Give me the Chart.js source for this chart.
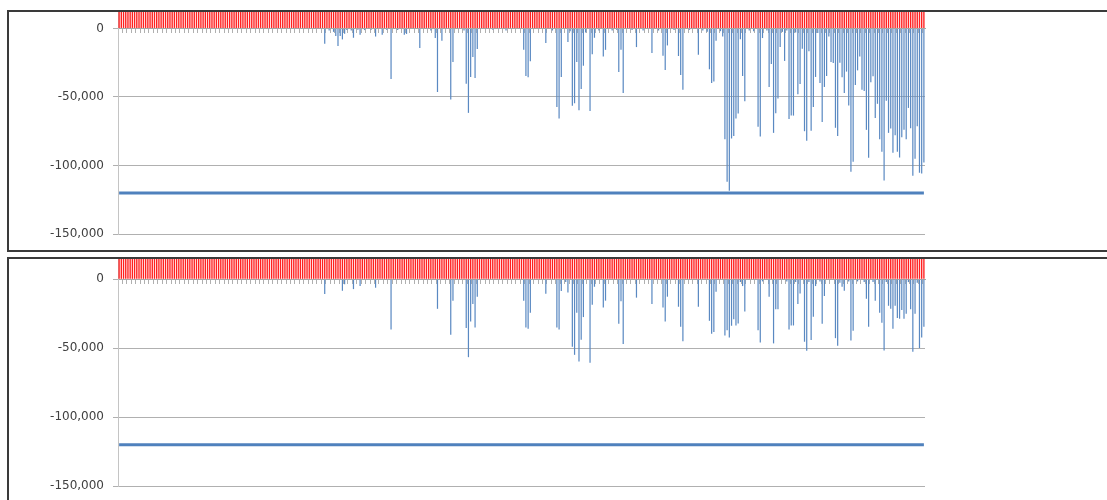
<!DOCTYPE html>
<html>
<head>
<meta charset="utf-8">
<script src="https://cdn.jsdelivr.net/npm/chart.js@4.4.1/dist/chart.umd.min.js"></script>
<style>
  html, body { margin: 0; padding: 0; background: #fff; width: 1107px; height: 500px; overflow: hidden; }
  .panel { position: absolute; left: 7px; width: 1200px; box-sizing: border-box; border: 2px solid #3a3a3a; border-right: none; background: #fff; }
  #p1 { top: 10px; height: 242px; }
  #p2 { top: 257px; height: 300px; }
  canvas { position: absolute; left: 0; }
  #c1 { top: 0; }
  #c2 { top: 252px; }
</style>
</head>
<body>
<div class="panel" id="p1"></div>
<div class="panel" id="p2"></div>
<canvas id="c1" width="1107" height="252"></canvas>
<canvas id="c2" width="1107" height="248"></canvas>
<script>
// ---- data ----
const dayCount = 365;
const dayLabels = Array.from({ length: dayCount }, (_, i) => String(i + 1));

const yTickValues = [0, -50000, -100000, -150000];
const limitLevel = -120000;

// positive daily series (red) – runs above the visible window
const positiveDaily = [
  20000,20000,20000,20000,20000,20000,20000,20000,20000,20000,
  20000,20000,20000,20000,20000,20000,20000,20000,20000,20000,
  20000,20000,20000,20000,20000,20000,20000,20000,20000,20000,
  20000,20000,20000,20000,20000,20000,20000,20000,20000,20000,
  20000,20000,20000,20000,20000,20000,20000,20000,20000,20000,
  20000,20000,20000,20000,20000,20000,20000,20000,20000,20000,
  20000,20000,20000,20000,20000,20000,20000,20000,20000,20000,
  20000,20000,20000,20000,20000,20000,20000,20000,20000,20000,
  20000,20000,20000,20000,20000,20000,20000,20000,20000,20000,
  20000,20000,20000,20000,20000,20000,20000,20000,20000,20000,
  20000,20000,20000,20000,20000,20000,20000,20000,20000,20000,
  20000,20000,20000,20000,20000,20000,20000,20000,20000,20000,
  20000,20000,20000,20000,20000,20000,20000,20000,20000,20000,
  20000,20000,20000,20000,20000,20000,20000,20000,20000,20000,
  20000,20000,20000,20000,20000,20000,20000,20000,20000,20000,
  20000,20000,20000,20000,20000,20000,20000,20000,20000,20000,
  20000,20000,20000,20000,20000,20000,20000,20000,20000,20000,
  20000,20000,20000,20000,20000,20000,20000,20000,20000,20000,
  20000,20000,20000,20000,20000,20000,20000,20000,20000,20000,
  20000,20000,20000,20000,20000,20000,20000,20000,20000,20000,
  20000,20000,20000,20000,20000,20000,20000,20000,20000,20000,
  20000,20000,20000,20000,20000,20000,20000,20000,20000,20000,
  20000,20000,20000,20000,20000,20000,20000,20000,20000,20000,
  20000,20000,20000,20000,20000,20000,20000,20000,20000,20000,
  20000,20000,20000,20000,20000,20000,20000,20000,20000,20000,
  20000,20000,20000,20000,20000,20000,20000,20000,20000,20000,
  20000,20000,20000,20000,20000,20000,20000,20000,20000,20000,
  20000,20000,20000,20000,20000,20000,20000,20000,20000,20000,
  20000,20000,20000,20000,20000,20000,20000,20000,20000,20000,
  20000,20000,20000,20000,20000,20000,20000,20000,20000,20000,
  20000,20000,20000,20000,20000,20000,20000,20000,20000,20000,
  20000,20000,20000,20000,20000,20000,20000,20000,20000,20000,
  20000,20000,20000,20000,20000,20000,20000,20000,20000,20000,
  20000,20000,20000,20000,20000,20000,20000,20000,20000,20000,
  20000,20000,20000,20000,20000,20000,20000,20000,20000,20000,
  20000,20000,20000,20000,20000,20000,20000,20000,20000,20000,
  20000,20000,20000,20000,20000
];

// negative daily series, upper panel
const negativeDailyTop = [
  0,0,0,0,0,0,0,0,0,0,
  0,0,0,0,0,0,0,0,0,0,
  0,0,0,0,0,0,0,0,0,0,
  0,0,0,0,0,0,0,0,0,0,
  0,0,0,0,0,0,0,0,0,0,
  0,0,0,0,0,0,0,0,0,0,
  0,0,0,0,0,0,0,0,0,0,
  0,0,0,0,0,0,0,0,0,0,
  0,0,0,0,0,0,0,0,0,0,
  0,0,0,-11100,0,-1500,0,-2500,-5600,-12900,
  -5600,-8000,-3900,-1200,0,-1500,-6800,0,-1000,-4600,
  0,-1200,0,0,-1000,0,-5900,0,0,-4600,
  0,-1000,0,-36900,0,0,-1200,0,0,-4600,
  -4000,0,0,0,0,0,-14300,0,0,0,
  0,-1500,0,-7000,-46400,0,-9000,0,0,0,
  -51900,-24500,0,0,0,0,-1500,-40300,-61600,-35400,
  -20900,-36100,-15000,0,0,0,0,0,0,-1000,
  0,0,0,0,0,-1500,0,0,0,0,
  0,0,0,-15600,-34700,-35700,-24000,0,0,0,
  0,0,0,-10700,0,0,-1500,0,-57300,-65800,
  -35400,0,0,-9900,-2000,-56500,-54600,-24500,-59700,-44200,
  -27200,-3000,0,-60200,-18900,-6800,0,-1500,0,-20400,
  -15600,0,0,-1500,0,-1000,-31800,-15600,-47100,0,
  0,0,-1200,0,-13600,0,0,-1500,0,0,
  0,-18000,0,0,-1500,0,-19900,-30300,-12400,0,
  0,-1200,0,-20100,-33900,-44700,0,0,-1000,0,
  0,0,-19200,0,-1500,0,-2500,-29800,-39800,-38800,
  -9000,0,-2000,-5800,-80800,-111900,-118400,-80300,-78400,-65800,
  -62100,-7800,-34700,-53100,0,-1500,0,-2000,0,-71800,
  -78900,-7000,0,-1500,-42700,-25900,-76200,-61900,-51200,-13600,
  -2500,-23700,-1500,-66000,-63600,-63600,-3000,-48000,-40500,-14800,
  -75000,-82000,-16700,-74700,-57300,-35400,-3400,-39800,-68200,-42700,
  -34700,-5800,-24500,-25200,-72500,-78400,-25000,-35700,-47100,-31500,
  -56300,-104600,-97300,-41300,-30600,-20400,-44700,-45600,-74000,-94400,
  -39300,-34900,-65300,-55000,-80800,-90000,-110900,-52800,-76200,-73000,
  -90800,-78000,-90000,-94200,-79400,-74000,-80800,-58000,-72800,-107500,
  -95000,-71300,-105300,-105800,-97800
];

// negative daily series, lower panel
const negativeDailyBottom = [
  0,0,0,0,0,0,0,0,0,0,
  0,0,0,0,0,0,0,0,0,0,
  0,0,0,0,0,0,0,0,0,0,
  0,0,0,0,0,0,0,0,0,0,
  0,0,0,0,0,0,0,0,0,0,
  0,0,0,0,0,0,0,0,0,0,
  0,0,0,0,0,0,0,0,0,0,
  0,0,0,0,0,0,0,0,0,0,
  0,0,0,0,0,0,0,0,0,0,
  0,0,0,-10700,0,0,0,0,0,0,
  0,-8300,-3500,0,0,0,-7100,0,0,-4900,
  0,0,0,0,0,0,-6100,0,0,0,
  0,0,0,-36400,0,0,0,0,0,0,
  0,0,0,0,0,0,0,0,0,0,
  0,0,0,0,-21400,0,0,0,0,0,
  -40300,-15500,0,0,0,0,0,-35400,-56500,-30600,
  -18000,-34900,-12600,0,0,0,0,0,0,0,
  0,0,0,0,0,0,0,0,0,0,
  0,0,0,-15500,-34900,-35900,-24300,0,0,0,
  0,0,0,-10400,0,0,0,0,-34900,-36400,
  -8500,0,-2000,-9500,0,-49000,-54800,-24300,-59600,-43900,
  -27400,0,0,-60600,-18500,-5400,0,0,0,-20400,
  -15500,0,0,0,0,0,-32300,-16000,-47000,0,
  0,0,0,0,-13300,0,0,0,0,0,
  0,-18000,0,0,0,0,-20400,-30600,-12600,0,
  0,0,0,-19900,-34400,-44900,0,0,0,0,
  0,0,-19900,0,0,0,0,-30100,-39500,-38300,
  -9000,0,0,0,-40700,-36900,-42200,-33700,-28900,-33500,
  -32000,-2000,-4900,-23300,0,0,0,0,0,-36900,
  -45800,-1500,0,0,-12600,0,-46500,-21800,-21800,0,
  0,0,-1500,-36400,-33500,-33500,-2000,-18000,-10200,0,
  -45300,-51900,-2000,-44100,-27200,-4900,0,-1500,-32300,-12100,
  0,0,0,0,-42700,-48300,-2500,-5300,-8300,0,
  -1500,-44400,-37300,0,-1500,0,0,-2000,-14100,-34400,
  0,-2000,-15500,0,-24300,-31500,-51600,-2000,-19200,-21400,
  -35900,-19100,-28100,-28600,-22300,-28600,-25000,-2000,-21800,-52600,
  -25000,-2500,-49900,-42200,-34400
];

// ---- chart builder ----
function buildChart(canvasId, negValues, yMax, pad) {
  const lastLabel = dayLabels[dayLabels.length - 1];
  return new Chart(document.getElementById(canvasId), {
    type: 'bar',
    data: {
      labels: dayLabels,
      datasets: [
        {
          type: 'line',
          data: [{ x: dayLabels[0], y: limitLevel }, { x: lastLabel, y: limitLevel }],
          borderColor: '#4F81BD',
          borderWidth: 3,
          pointRadius: 0,
          fill: false,
          order: 0
        },
        {
          data: positiveDaily,
          backgroundColor: '#FF2020',
          borderWidth: 0,
          barPercentage: 0.62,
          categoryPercentage: 1.0,
          order: 2
        },
        {
          data: negValues,
          backgroundColor: '#5A89C2',
          borderWidth: 0,
          barPercentage: 0.55,
          categoryPercentage: 1.0,
          order: 1
        }
      ]
    },
    options: {
      responsive: false,
      animation: false,
      devicePixelRatio: 1,
      layout: { padding: pad },
      plugins: { legend: { display: false }, tooltip: { enabled: false } },
      scales: {
        x: {
          type: 'category',
          stacked: true,
          position: { y: 0 },
          ticks: { display: false },
          grid: {
            drawOnChartArea: false,
            drawTicks: true,
            tickLength: 4,
            color: (ctx) => (ctx.index % 2 === 0 ? '#b0b0b0' : 'rgba(0,0,0,0)')
          },
          border: { display: true, color: '#a6a6a6', width: 1 }
        },
        y: {
          stacked: false,
          min: -150000,
          max: yMax,
          afterBuildTicks: (scale) => {
            scale.ticks = yTickValues.map((v) => ({ value: v }));
          },
          afterFit: (scale) => {
            scale.width = 118;
            scale.paddingTop = 0;
            scale.paddingBottom = 0;
          },
          ticks: {
            padding: 9,
            color: '#404040',
            font: { family: 'DejaVu Sans', size: 12 },
            callback: (v) => Number(v).toLocaleString('en-US')
          },
          grid: { color: '#b0b0b0', tickLength: 5, drawTicks: true },
          border: { display: true, color: '#c4c4c4' }
        }
      }
    }
  });
}

buildChart('c1', negativeDailyTop, 12000, { left: 0, top: 12, right: 182, bottom: 18 });
buildChart('c2', negativeDailyBottom, 14750, { left: 0, top: 7, right: 182, bottom: 14 });
</script>
</body>
</html>
